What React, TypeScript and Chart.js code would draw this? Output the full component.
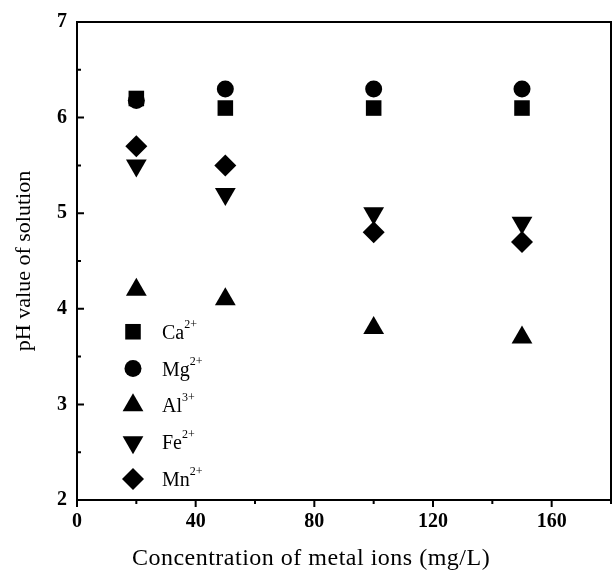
import React, { useEffect, useRef } from "react";
import { Chart, registerables } from "chart.js";

Chart.register(...registerables);

const concentrations = [20, 50, 100, 150];
const caValues = [6.2, 6.1, 6.1, 6.1];
const mgValues = [6.18, 6.3, 6.3, 6.3];
const alValues = [4.2, 4.1, 3.8, 3.7];
const feValues = [5.5, 5.2, 5.0, 4.9];
const mnValues = [5.7, 5.5, 4.8, 4.7];

const xTickValues = [0, 40, 80, 120, 160];
const xMinorValues = [20, 60, 100, 140, 180];
const yTickValues = [2, 3, 4, 5, 6, 7];
const yMinorValues = [2.5, 3.5, 4.5, 5.5, 6.5];

const ionNames = ["Ca", "Mg", "Al", "Fe", "Mn"];
const ionCharges = ["2+", "2+", "3+", "2+", "2+"];

const xTitle = "Concentration of metal ions (mg/L)";
const yTitle = "pH value of solution";

const FONT = "'Liberation Serif', 'Times New Roman', serif";

const styles = [
  { pointStyle: "rect", radius: 11, rotation: 0 },
  { pointStyle: "circle", radius: 8.5, rotation: 0 },
  { pointStyle: "triangle", radius: 12, rotation: 0 },
  { pointStyle: "triangle", radius: 12, rotation: 180 },
  { pointStyle: "rectRot", radius: 11, rotation: 0 },
];

const seriesValues = [caValues, mgValues, alValues, feValues, mnValues];

function drawMarker(ctx: CanvasRenderingContext2D, style: string, x: number, y: number, r: number, rot: number) {
  ctx.beginPath();
  if (style === "rect") {
    const s = Math.SQRT1_2 * r;
    ctx.rect(x - s, y - s, 2 * s, 2 * s);
  } else if (style === "circle") {
    ctx.arc(x, y, r, 0, Math.PI * 2);
  } else if (style === "triangle") {
    let rad = (rot * Math.PI) / 180;
    ctx.moveTo(x + Math.sin(rad) * r, y - Math.cos(rad) * r);
    rad += (2 * Math.PI) / 3;
    ctx.lineTo(x + Math.sin(rad) * r, y - Math.cos(rad) * r);
    rad += (2 * Math.PI) / 3;
    ctx.lineTo(x + Math.sin(rad) * r, y - Math.cos(rad) * r);
    ctx.closePath();
  } else if (style === "rectRot") {
    ctx.moveTo(x, y - r);
    ctx.lineTo(x + r, y);
    ctx.lineTo(x, y + r);
    ctx.lineTo(x - r, y);
    ctx.closePath();
  }
  ctx.fill();
}

const framePlugin = {
  id: "frameTicks",
  afterDraw(chart: any) {
    const { ctx, chartArea, scales } = chart;
    const { left, right, top, bottom } = chartArea;
    ctx.save();
    ctx.strokeStyle = "#000";
    ctx.lineWidth = 2;
    ctx.strokeRect(left, top, right - left, bottom - top);
    ctx.beginPath();
    xTickValues.forEach((v) => {
      const x = scales.x.getPixelForValue(v);
      ctx.moveTo(x, bottom);
      ctx.lineTo(x, bottom + 7);
    });
    xMinorValues.forEach((v) => {
      const x = scales.x.getPixelForValue(v);
      ctx.moveTo(x, bottom);
      ctx.lineTo(x, bottom + 4);
    });
    yTickValues.forEach((v) => {
      const y = scales.y.getPixelForValue(v);
      ctx.moveTo(left, y);
      ctx.lineTo(left + 7, y);
    });
    yMinorValues.forEach((v) => {
      const y = scales.y.getPixelForValue(v);
      ctx.moveTo(left, y);
      ctx.lineTo(left + 4, y);
    });
    ctx.stroke();

    // x-axis title
    ctx.fillStyle = "#000";
    ctx.font = `24px ${FONT}`;
    (ctx as any).letterSpacing = "0.5px";
    ctx.textAlign = "center";
    ctx.textBaseline = "alphabetic";
    ctx.fillText(xTitle, 311, 565);
    (ctx as any).letterSpacing = "0px";

    // legend
    const lx = left + 56;
    const ly0 = scales.y.getPixelForValue(3.76);
    const step = 36.8;
    chart.data.datasets.forEach((ds: any, i: number) => {
      const y = ly0 + i * step;
      ctx.fillStyle = "#000";
      drawMarker(ctx, ds.pointStyle, lx, y, ds.pointRadius, ds.rotation);
      ctx.textBaseline = "alphabetic";
      ctx.textAlign = "left";
      ctx.font = `20px ${FONT}`;
      const name = ionNames[i];
      const tx = lx + 29;
      ctx.fillText(name, tx, y + 7);
      const w = ctx.measureText(name).width;
      ctx.font = `12px ${FONT}`;
      ctx.fillText(ionCharges[i], tx + w, y - 4);
    });
    ctx.restore();
  },
};

export default function App() {
  const ref = useRef<HTMLCanvasElement>(null);
  useEffect(() => {
    document.body.style.margin = "0";
    const datasets = seriesValues.map((vals, i) => ({
      label: ionNames[i] + ionCharges[i],
      data: concentrations.map((c, j) => ({ x: c, y: vals[j] })),
      pointStyle: styles[i].pointStyle,
      pointRadius: styles[i].radius,
      rotation: styles[i].rotation,
      pointRotation: styles[i].rotation,
      backgroundColor: "#000",
      borderColor: "#000",
      borderWidth: 0,
      pointBorderWidth: 0,
      showLine: false,
    }));
    const chart = new Chart(ref.current as HTMLCanvasElement, {
      type: "scatter",
      data: { datasets } as any,
      options: {
        animation: false,
        responsive: false,
        layout: { autoPadding: false, padding: { top: 20, right: 1, left: 0, bottom: 0 } },
        plugins: { legend: { display: false }, tooltip: { enabled: false } },
        scales: {
          x: {
            type: "linear",
            min: 0,
            max: 180,
            afterBuildTicks: (s: any) => {
              s.ticks = xTickValues.map((v) => ({ value: v }));
            },
            afterFit: (s: any) => {
              s.height = 74;
              s.paddingLeft = 0;
              s.paddingRight = 0;
            },
            grid: { display: false, drawTicks: false },
            border: { display: false },
            ticks: {
              padding: 10,
              color: "#000",
              font: { family: FONT, size: 20, weight: "bold" },
            },
            title: { display: false },
          },
          y: {
            type: "linear",
            min: 2,
            max: 7,
            afterBuildTicks: (s: any) => {
              s.ticks = yTickValues.map((v) => ({ value: v }));
            },
            afterFit: (s: any) => {
              s.width = 77;
            },
            grid: { display: false, drawTicks: false },
            border: { display: false },
            ticks: {
              padding: 10,
              color: "#000",
              font: { family: FONT, size: 20, weight: "bold" },
            },
            title: {
              display: true,
              text: yTitle,
              color: "#000",
              font: { family: FONT, size: 22 },
              padding: { top: 11, bottom: 4 },
            },
          },
        },
      } as any,
      plugins: [framePlugin],
    });
    return () => chart.destroy();
  }, []);
  return <canvas ref={ref} width={612} height={574} style={{ display: "block" }} />;
}
